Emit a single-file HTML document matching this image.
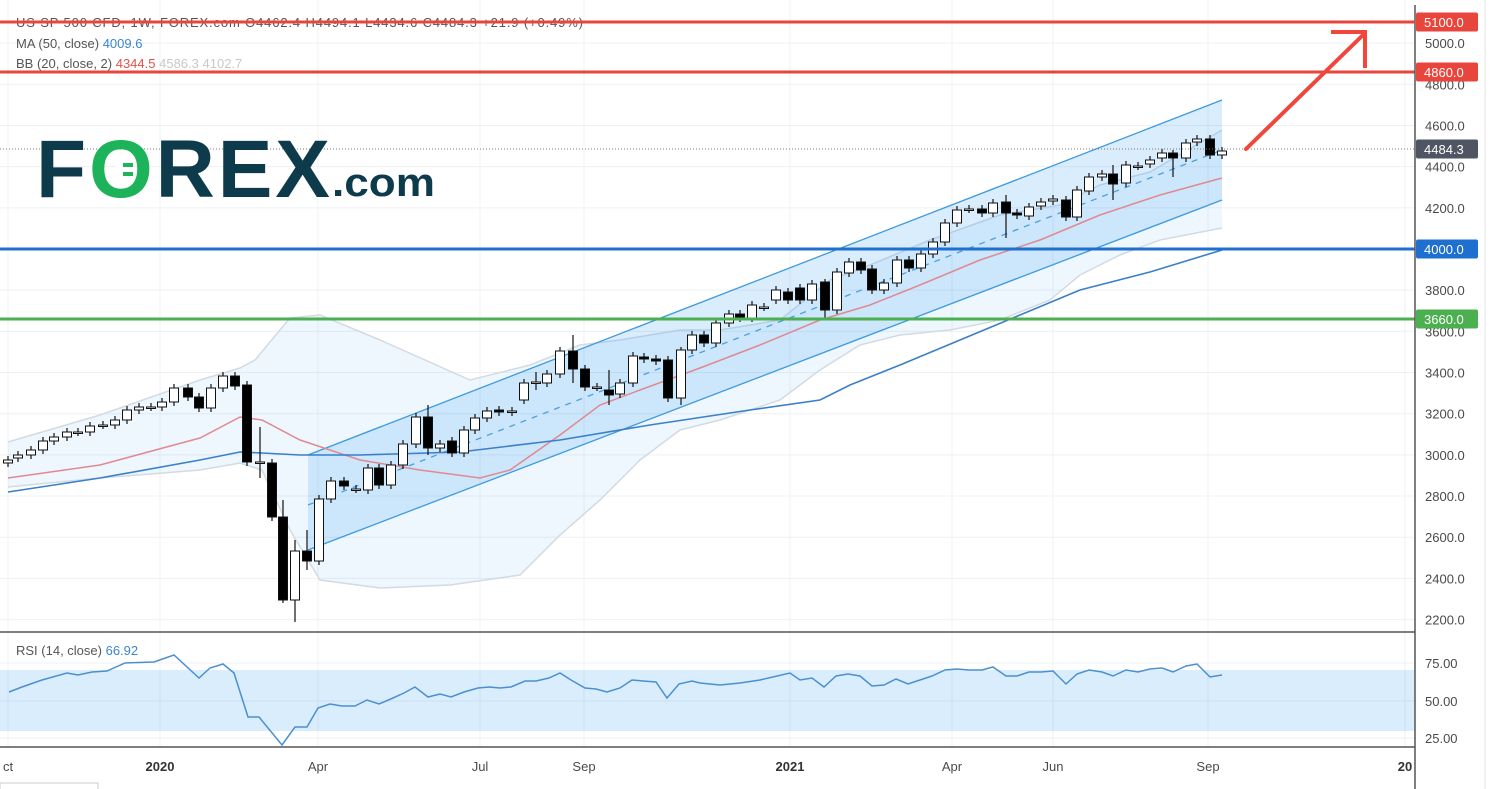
<!DOCTYPE html>
<html><head><meta charset="utf-8"><style>
html,body{margin:0;padding:0;background:#fff;}
body{width:1491px;height:789px;overflow:hidden;position:relative;font-family:"Liberation Sans","DejaVu Sans",sans-serif;}
svg{position:absolute;left:0;top:0;}
</style></head><body>
<svg id="s" width="1491" height="789" viewBox="0 0 1491 789" xmlns="http://www.w3.org/2000/svg">
<rect x="0" y="0" width="1491" height="789" fill="#fff"/>
<g id="grid" stroke="#eef0f3" stroke-width="1"></g>
<g id="bb"></g>
<g id="chan"></g>
<g id="lines"></g>
<g id="candles"></g>
<g id="hl"></g>
<g id="rsi"></g>
<g id="axis"></g>
<g id="txt" font-family="Liberation Sans, DejaVu Sans, sans-serif"></g>
</svg>
<script>
var NS="http://www.w3.org/2000/svg";
function el(p,t,a,txt){var e=document.createElementNS(NS,t);for(var k in a)e.setAttribute(k,a[k]);if(txt!==undefined)e.textContent=txt;document.getElementById(p).appendChild(e);return e;}
function Y(p){return 249+(4000-p)*0.20588;}
function pts(a){return a.map(function(q){return q[0]+","+q[1];}).join(" ");}
[5000,4800,4600,4400,4200,4000,3800,3600,3400,3200,3000,2800,2600,2400,2200].forEach(function(p){el("grid","line",{x1:0,x2:1415,y1:Y(p),y2:Y(p)});});
[8,160,318,480,584,790,952,1053,1208,1405].forEach(function(x){el("grid","line",{x1:x,x2:x,y1:0,y2:747});});
[663,701,738].forEach(function(y){el("grid","line",{x1:0,x2:1415,y1:y,y2:y});});
var up=[[8,442],[100,415],[200,380],[240,368],[255,360],[290,318],[320,315],[380,340],[470,380],[530,365],[580,345],[620,340],[680,330],[720,330],[780,320],[830,280],[870,265],[930,240],[1000,215],[1060,205],[1100,185],[1150,172],[1222,130]];
var lo=[[8,487],[100,478],[200,470],[240,463],[262,470],[290,530],[320,580],[380,588],[450,585],[520,575],[560,535],[600,500],[640,460],[680,430],[720,420],[780,400],[820,370],[860,345],[900,335],[950,330],[1000,320],[1050,300],[1080,275],[1120,255],[1160,240],[1222,228]];
el("bb","polygon",{points:pts(up.concat(lo.slice().reverse())),fill:"rgba(33,150,243,0.08)"});
el("bb","polyline",{points:pts(up),fill:"none",stroke:"#d3dae2","stroke-width":1.5});
el("bb","polyline",{points:pts(lo),fill:"none",stroke:"#d3dae2","stroke-width":1.5});
el("chan","polygon",{points:"308,455 1222,100 1222,200 308,550",fill:"rgba(33,150,243,0.17)"});
el("chan","line",{x1:308,y1:455,x2:1222,y2:100,stroke:"#3d9ae0","stroke-width":1.3});
el("chan","line",{x1:308,y1:550,x2:1222,y2:200,stroke:"#3d9ae0","stroke-width":1.3});
el("chan","line",{x1:308,y1:505,x2:1222,y2:150,stroke:"#4aa0e0","stroke-width":1.3,"stroke-dasharray":"6,6"});
var mid=[[8,478],[100,465],[200,438],[240,417],[262,420],[300,440],[360,460],[420,470],[480,478],[510,470],[560,435],[600,405],[640,390],[700,368],[760,345],[820,320],[870,305],[920,285],[980,260],[1040,240],[1100,215],[1160,195],[1222,178]];
var ma=[[8,492],[100,478],[200,460],[240,452],[262,453],[300,455],[360,455],[460,452],[560,440],[650,425],[750,410],[820,400],[850,385],[900,365],[960,340],[1020,315],[1080,290],[1150,272],[1222,250]];
el("lines","polyline",{points:pts(mid),fill:"none",stroke:"#e08a90","stroke-width":1.5});
el("lines","polyline",{points:pts(ma),fill:"none",stroke:"#3a7fc8","stroke-width":1.6});
var C=[[8,463,460],[18,458,455],[31,455,450],[43,450,441],[54,441,437],[67,437,432],[78,432,432],[90,432,426],[103,425,425],[115,425,420],[127,420,410],[139,410,407],[151,407,407],[162,407,402],[174,402,388],[188,388,397],[199,397,408],[211,408,388],[223,388,376],[235,376,386],[247,385,462],[260,462,462],[272,463,517],[283,517,600],[295,600,551],[307,551,561],[319,561,499],[331,499,481],[344,481,486],[356,489,489],[368,490,468],[379,468,485],[391,485,465],[403,465,444],[416,444,417],[428,417,448],[440,448,444],[452,441,453],[464,453,430],[475,430,418],[487,418,411],[499,410,412],[512,412,411],[524,400,383],[536,382,382],[547,383,374],[560,374,351],[573,351,369],[585,369,387],[597,387,387],[609,390,395],[620,394,383],[633,383,356],[644,357,359],[656,359,361],[668,360,398],[681,398,350],[692,350,335],[704,335,343],[716,343,323],[729,323,314],[740,314,318],[752,318,305],[764,307,307],[776,300,290],[788,292,300],[800,288,300],[812,300,284],[825,282,310],[837,310,272],[849,273,262],[861,262,270],[872,269,290],[884,290,283],[897,283,260],[909,260,268],[921,268,254],[933,254,242],[945,242,223],[957,223,210],[969,209,209],[982,209,213],[993,213,203],[1006,202,213],[1017,213,215],[1029,216,207],[1041,206,202],[1053,201,199],[1066,200,217],[1077,217,190],[1089,191,177],[1102,177,174],[1113,174,184],[1126,183,165],[1138,166,166],[1150,164,160],[1162,158,153],[1173,153,158],[1186,158,143],[1197,142,139],[1210,139,155],[1222,155,151]];
var longw={260:[427,478],283:[500,580],295:[540,622],307:[530,570],428:[405,455],536:[372,390],573:[335,383],609:[370,405],681:[390,405],825:[282,318],1006:[195,238],1113:[165,200],1173:[150,177]};
C.forEach(function(c){var x=c[0],o=c[1],cl=c[2];var t=Math.min(o,cl),b=Math.max(o,cl);var w=longw[x];var hi=w?Math.min(w[0],t-3):t-4,lw=w?Math.max(w[1],b+3):b+4;
el("candles","line",{x1:x,x2:x,y1:hi,y2:lw,stroke:"#111","stroke-width":1.2});
var h=Math.max(b-t,1.5);var bear=cl>o;
el("candles","rect",{x:x-4.5,y:t,width:9,height:h,fill:bear?"#000":"#fff",stroke:"#111","stroke-width":1});});
el("hl","line",{x1:0,x2:1415,y1:149,y2:149,stroke:"#777","stroke-width":1,"stroke-dasharray":"1,2"});
el("hl","line",{x1:0,x2:1415,y1:72,y2:72,stroke:"#e8453c","stroke-width":3});
el("hl","line",{x1:0,x2:1415,y1:249,y2:249,stroke:"#1e6fd0","stroke-width":3});
el("hl","line",{x1:0,x2:1415,y1:319,y2:319,stroke:"#4caf50","stroke-width":3});
el("hl","line",{x1:1246,y1:149,x2:1364,y2:34,stroke:"#f0463c","stroke-width":4,"stroke-linecap":"round"});
el("hl","polyline",{points:"1331,32 1365,32 1365,68",fill:"none",stroke:"#f0463c","stroke-width":4});
el("rsi","rect",{x:0,y:670,width:1415,height:61,fill:"rgba(33,150,243,0.17)"});
var R=[[9,692],[22,687],[42,680],[67,673],[78,675],[92,672],[107,671],[125,663],[154,662],[174,655],[199,678],[210,668],[223,664],[234,673],[248,717],[259,717],[282,745],[295,727],[307,727],[318,708],[330,704],[342,706],[355,706],[367,700],[379,704],[393,698],[404,693],[415,687],[428,697],[440,694],[451,697],[464,692],[478,688],[489,687],[500,688],[511,687],[525,681],[536,681],[549,678],[560,673],[571,680],[585,688],[596,689],[607,692],[620,688],[632,680],[643,681],[656,682],[667,698],[679,684],[692,681],[700,683],[720,685],[740,683],[760,680],[790,673],[800,680],[812,678],[824,687],[836,676],[848,674],[860,676],[872,686],[884,685],[896,679],[908,684],[920,680],[932,676],[945,670],[957,669],[969,670],[982,670],[993,667],[1006,676],[1017,676],[1029,672],[1041,672],[1053,671],[1066,684],[1077,674],[1089,670],[1102,672],[1113,676],[1126,670],[1138,672],[1150,669],[1162,668],[1173,672],[1186,666],[1197,664],[1210,677],[1222,675]];
el("rsi","polyline",{points:pts(R),fill:"none",stroke:"#4a90d0","stroke-width":1.5});
el("axis","line",{x1:0,x2:1415,y1:632,y2:632,stroke:"#555","stroke-width":1.5});
el("axis","line",{x1:0,x2:1415,y1:747,y2:747,stroke:"#555","stroke-width":1.5});
el("axis","line",{x1:1415,x2:1415,y1:5,y2:789,stroke:"#555","stroke-width":1.5});
el("axis","line",{x1:1485,x2:1485,y1:0,y2:789,stroke:"#e6e6e6","stroke-width":1});
el("axis","rect",{x:0,y:783,width:98,height:8,fill:"none",stroke:"#ccc"});
[5000,4800,4600,4400,4200,3800,3600,3400,3200,3000,2800,2600,2400,2200].forEach(function(p){el("txt","text",{x:1425,y:Y(p)+5,"font-size":13,fill:"#4a4a4a"},p.toFixed(1));});
[[75,663],[50,701],[25,738]].forEach(function(a){el("txt","text",{x:1425,y:a[1]+5,"font-size":13,fill:"#4a4a4a"},a[0].toFixed(2));});
[[5100,22,"#e8453c","5100.0"],[4860,72,"#e8453c","4860.0"],[0,149,"#4f5562","4484.3"],[0,249,"#1e6fd0","4000.0"],[0,319,"#4caf50","3660.0"]].forEach(function(b){
el("txt","rect",{x:1416,y:b[1]-9.5,width:62,height:19,rx:2,fill:b[2]});
el("txt","text",{x:1424,y:b[1]+5,"font-size":13,fill:"#fff"},b[3]);});
[[3,"ct",0],[160,"2020",1],[318,"Apr",0],[480,"Jul",0],[584,"Sep",0],[790,"2021",1],[952,"Apr",0],[1053,"Jun",0],[1208,"Sep",0],[1405,"20",1]].forEach(function(t){
el("txt","text",{x:t[0],y:771,"font-size":13,fill:t[2]?"#333":"#4a4a4a","font-weight":t[2]?"bold":"normal","text-anchor":t[0]<10?"start":"middle"},t[1]);});
el("txt","text",{x:16,y:27,"font-size":13,fill:"#555",textLength:567,lengthAdjust:"spacing"},"US SP 500 CFD, 1W, FOREX.com  O4462.4  H4494.1  L4434.6  C4484.3  +21.9 (+0.49%)");
el("txt","line",{x1:0,x2:1415,y1:22,y2:22,stroke:"#e8453c","stroke-width":3});
var t2=el("txt","text",{x:16,y:48,"font-size":13,fill:"#555"});t2.innerHTML='MA (50, close)  <tspan fill="#3a86d0">4009.6</tspan>';
var t3=el("txt","text",{x:16,y:68,"font-size":13,fill:"#555"});t3.innerHTML='BB (20, close, 2)  <tspan fill="#e0524a">4344.5</tspan>  <tspan fill="#c8c8c8">4586.3</tspan>  <tspan fill="#c8c8c8">4102.7</tspan>';
var t4=el("txt","text",{x:16,y:655,"font-size":13,fill:"#555"});t4.innerHTML='RSI (14, close)  <tspan fill="#3a86d0">66.92</tspan>';
var lg=el("txt","text",{x:36,y:197,"font-size":82,"font-weight":"bold",fill:"#0d3b4c",textLength:294,lengthAdjust:"spacing"});
lg.innerHTML='F<tspan fill="#1db35a">O</tspan>REX';
el("txt","text",{x:332,y:196,"font-size":40,"font-weight":"bold",fill:"#0d3b4c",textLength:103,lengthAdjust:"spacingAndGlyphs"},".com");
el("txt","rect",{x:116,y:152,width:7,height:36,fill:"#fff"});
el("txt","rect",{x:123,y:163,width:10,height:4,fill:"#1db35a"});
el("txt","rect",{x:123,y:172,width:10,height:4,fill:"#1db35a"});
</script>
</body></html>
